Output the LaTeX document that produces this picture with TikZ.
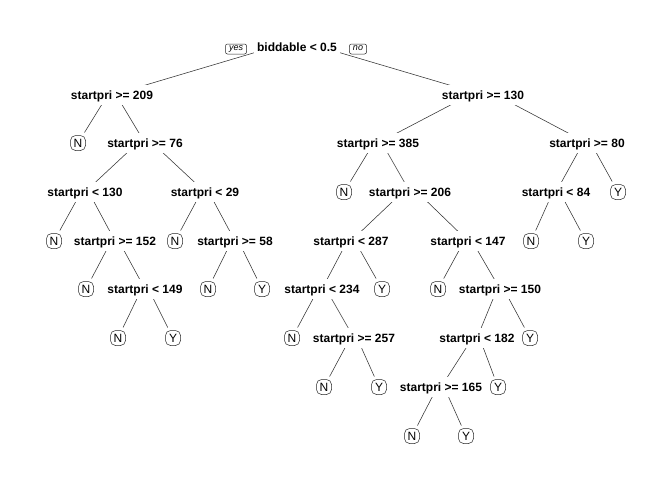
\documentclass[tikz,border=0pt]{standalone}
\usepackage{fontspec}
\setmainfont{Liberation Sans}
\usetikzlibrary{backgrounds}
\tikzset{
  splitlbl/.style={fill=white, inner xsep=3pt, inner ysep=0pt, minimum height=20pt,
    text height=8.6pt, text depth=0pt, font=\fontsize{12}{14}\selectfont\bfseries},
  leaf/.style={draw=black!85, line width=0.5pt, fill=white, rounded corners=5pt,
    minimum width=15pt, minimum height=15pt, inner sep=1pt, outer sep=3pt,
    text height=8.6pt, text depth=0pt, font=\fontsize{12}{14}\selectfont},
  yn/.style={draw=black!85, line width=0.5pt, fill=white, rounded corners=2pt,
    inner xsep=3.5pt, inner ysep=0pt, minimum height=10pt, text height=5pt, text depth=1.5pt,
    font=\fontsize{9}{10}\selectfont\itshape},
  edge/.style={draw=black!80, line width=0.55pt}
}
\newcommand\spl[4]{\node[splitlbl] (#1) at (#2,#3) {#4}; \coordinate (#1p) at (#2,#3-7);}
\newcommand\lf[4]{\node[leaf] (#1) at (#2,#3) {#4};}
\begin{document}
\begin{tikzpicture}[x=1pt,y=-1pt]
\useasboundingbox (0,0) rectangle (672,480);
% split nodes
\spl{nr}{297}{47}{biddable < 0.5}
\spl{na}{112}{95}{startpri >= 209}
\spl{nb}{483}{95}{startpri >= 130}
\spl{nc}{145}{143}{startpri >= 76}
\spl{ni}{378}{143}{startpri >= 385}
\spl{nj}{587}{143}{startpri >= 80}
\spl{nd}{85}{192}{startpri < 130}
\spl{ne}{205}{192}{startpri < 29}
\spl{nk}{410}{192}{startpri >= 206}
\spl{nu}{556}{192}{startpri < 84}
\spl{nf}{115}{241}{startpri >= 152}
\spl{nh}{235}{241}{startpri >= 58}
\spl{nl}{351}{241}{startpri < 287}
\spl{nm}{468}{241}{startpri < 147}
\spl{ng}{145}{289}{startpri < 149}
\spl{nn}{322}{289}{startpri < 234}
\spl{nq}{500}{289}{startpri >= 150}
\spl{no}{354}{338}{startpri >= 257}
\spl{ns}{477}{338}{startpri < 182}
\spl{nt}{441}{387}{startpri >= 165}
% leaves
\lf{la1}{78}{143}{N}
\lf{li1}{344}{192}{N}
\lf{lj1}{618}{192}{Y}
\lf{ld1}{54}{241}{N}
\lf{le1}{175}{241}{N}
\lf{lu1}{531}{241}{N}
\lf{lu2}{586}{241}{Y}
\lf{lf1}{86}{289}{N}
\lf{lh1}{208}{289}{N}
\lf{lh2}{262}{289}{Y}
\lf{ll1}{382}{289}{Y}
\lf{lm1}{438}{289}{N}
\lf{lg1}{118}{338}{N}
\lf{lg2}{173}{338}{Y}
\lf{ln1}{292}{338}{N}
\lf{lq1}{530}{338}{Y}
\lf{lo1}{324}{387}{N}
\lf{lo2}{379}{387}{Y}
\lf{ls1}{498}{387}{Y}
\lf{lt1}{412}{436}{N}
\lf{lt2}{466}{436}{Y}
% yes / no
\node[yn] (yes) at (236,49) {yes};
\node[yn] (nolbl) at (358,49) {no};
% edges
\begin{scope}[on background layer]
\fill[white] (0,0) rectangle (672,480);
\draw[edge] (nrp) -- (na.center);
\draw[edge] (nrp) -- (nb.center);
\draw[edge] (nap) -- (la1);
\draw[edge] (nap) -- (nc.center);
\draw[edge] (ncp) -- (nd.center);
\draw[edge] (ncp) -- (ne.center);
\draw[edge] (ndp) -- (ld1);
\draw[edge] (ndp) -- (nf.center);
\draw[edge] (nfp) -- (lf1);
\draw[edge] (nfp) -- (ng.center);
\draw[edge] (ngp) -- (lg1);
\draw[edge] (ngp) -- (lg2);
\draw[edge] (nep) -- (le1);
\draw[edge] (nep) -- (nh.center);
\draw[edge] (nhp) -- (lh1);
\draw[edge] (nhp) -- (lh2);
\draw[edge] (nbp) -- (ni.center);
\draw[edge] (nbp) -- (nj.center);
\draw[edge] (nip) -- (li1);
\draw[edge] (nip) -- (nk.center);
\draw[edge] (nkp) -- (nl.center);
\draw[edge] (nkp) -- (nm.center);
\draw[edge] (nlp) -- (nn.center);
\draw[edge] (nlp) -- (ll1);
\draw[edge] (nnp) -- (ln1);
\draw[edge] (nnp) -- (no.center);
\draw[edge] (nop) -- (lo1);
\draw[edge] (nop) -- (lo2);
\draw[edge] (nmp) -- (lm1);
\draw[edge] (nmp) -- (nq.center);
\draw[edge] (nqp) -- (ns.center);
\draw[edge] (nqp) -- (lq1);
\draw[edge] (nsp) -- (nt.center);
\draw[edge] (nsp) -- (ls1);
\draw[edge] (ntp) -- (lt1);
\draw[edge] (ntp) -- (lt2);
\draw[edge] (njp) -- (nu.center);
\draw[edge] (njp) -- (lj1);
\draw[edge] (nup) -- (lu1);
\draw[edge] (nup) -- (lu2);
\end{scope}
\end{tikzpicture}
\end{document}
